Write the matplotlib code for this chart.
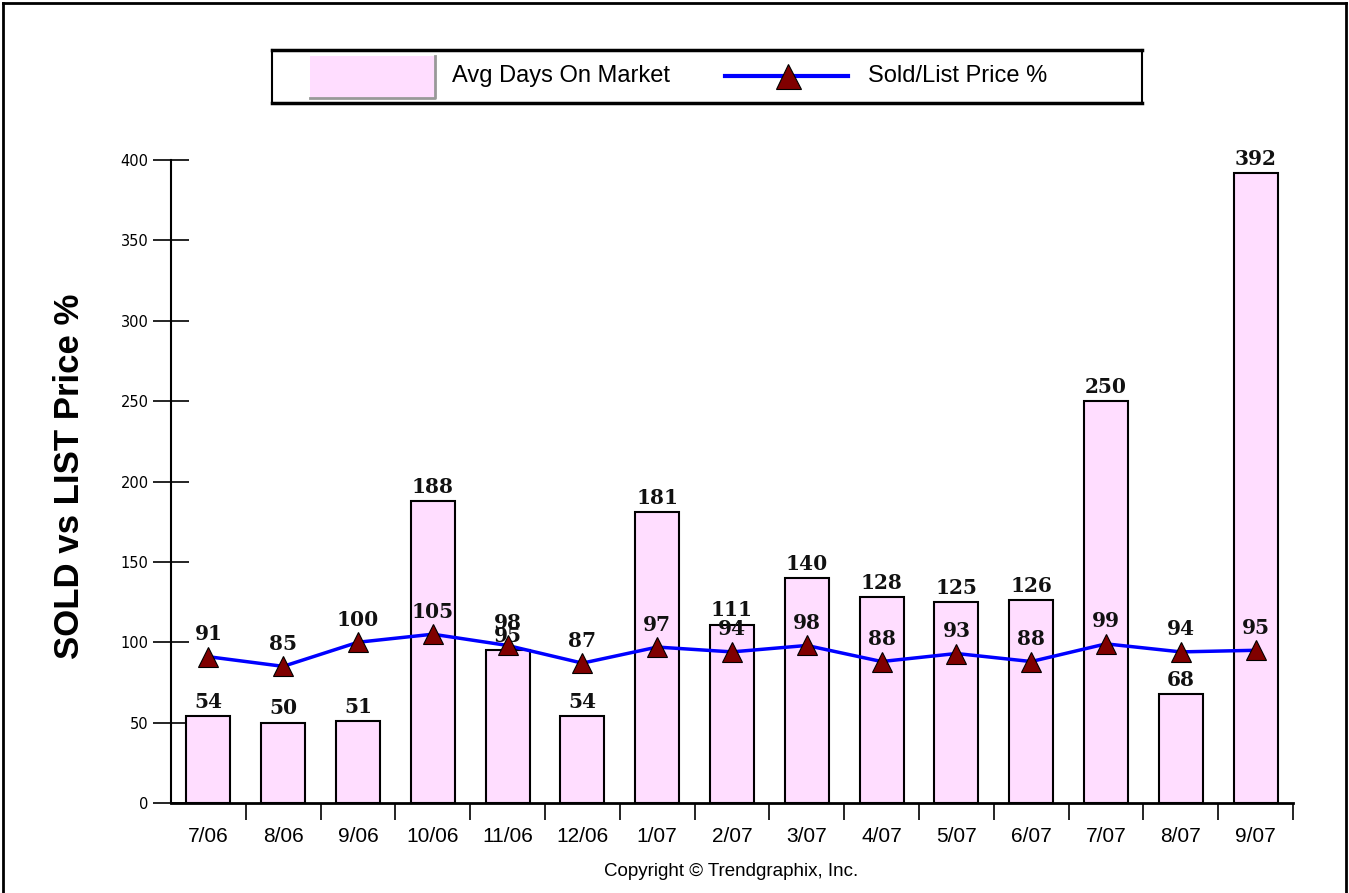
import numpy as np
import matplotlib.pyplot as plt
from matplotlib.patches import Rectangle
from matplotlib.lines import Line2D

# data
months = ["7/06", "8/06", "9/06", "10/06", "11/06", "12/06", "1/07", "2/07",
          "3/07", "4/07", "5/07", "6/07", "7/07", "8/07", "9/07"]
days_on_market = [54, 50, 51, 188, 95, 54, 181, 111, 140, 128, 125, 126, 250, 68, 392]
sold_list_pct = [91, 85, 100, 105, 98, 87, 97, 94, 98, 88, 93, 88, 99, 94, 95]

W, H = 1349, 893
pink = "#FFDDFF"
sans = ["Liberation Sans", "DejaVu Sans"]
serif_b = dict(family="DejaVu Serif", weight="bold", size=14.5)

fig = plt.figure(figsize=(W / 100, H / 100), dpi=100)
fig.patch.set_facecolor("white")

# outer frame
for xs, ys in [([3, 3], [H, 3]), ([3, 1346], [3, 3]), ([1346, 1346], [3, H])]:
    fig.add_artist(Line2D([v / W for v in xs], [1 - v / H for v in ys],
                          color="black", lw=2, transform=fig.transFigure))

ax = fig.add_axes([171 / W, 1 - 803 / H, (1293 - 171) / W, (803 - 160) / H])
x = np.arange(len(months))

# bars + labels
ax.bar(x, days_on_market, width=0.59, color=pink, edgecolor="black", lw=1.5, zorder=2)
for xi, v in zip(x, days_on_market):
    ax.annotate(str(v), (xi, v), xytext=(0, 3), textcoords="offset points",
                ha="center", va="bottom", color="#111111", **serif_b)

# sold/list line + labels
ax.plot(x, sold_list_pct, color="#0000FF", lw=2.5, marker="^", ms=14,
        mfc="#800000", mec="black", mew=0.8, zorder=4, clip_on=False)
for xi, p in zip(x, sold_list_pct):
    ax.annotate(str(p), (xi, p), xytext=(0, 9), textcoords="offset points",
                ha="center", va="bottom", color="#111111", zorder=5, **serif_b)

ax.set_xlim(-0.5, len(months) - 0.5)
ax.set_ylim(0, 400)
for s in ["top", "right"]:
    ax.spines[s].set_visible(False)
ax.spines["left"].set_linewidth(1.5)
ax.spines["bottom"].set_linewidth(2)

ax.set_yticks(range(0, 401, 50))
ax.tick_params(axis="y", direction="inout", length=26, width=1.2, pad=3, labelsize=10.5)
for lbl in ax.get_yticklabels():
    lbl.set_family("DejaVu Sans")

ax.set_xticks(x)
ax.set_xticklabels(months, family=sans, fontsize=15)
ax.tick_params(axis="x", which="major", length=0, pad=17)
ax.set_xticks(x + 0.5, minor=True)
ax.tick_params(axis="x", which="minor", direction="out", length=12, width=1.2)

fig.text(70 / W, 1 - 476 / H, "SOLD vs LIST Price %", rotation=90, ha="center", va="center",
         family="Liberation Sans", weight="bold", fontsize=25)

fig.text(731 / W, 1 - 872 / H, "Copyright \u00a9 Trendgraphix, Inc.", ha="center", va="center",
         family=sans, fontsize=13.5)

# legend box
lg = fig.add_axes([272 / W, 1 - 103 / H, 870 / W, 53 / H])
lg.set_xlim(0, 870)
lg.set_ylim(0, 53)
lg.set_xticks([])
lg.set_yticks([])
for s in lg.spines.values():
    s.set_linewidth(1.5)
lg.spines["top"].set_linewidth(2.5)
lg.spines["bottom"].set_linewidth(2.5)
lg.add_patch(Rectangle((38, 5), 125, 42, facecolor=pink, edgecolor="none"))
lg.plot([163, 163, 38], [47, 5, 5], color="#999999", lw=2)
lg.text(180, 27, "Avg Days On Market", va="center", ha="left", family=sans, fontsize=17)
lg.plot([453, 576], [27, 27], color="#0000FF", lw=3)
lg.plot([516], [27], marker="^", ms=18, mfc="#800000", mec="black", mew=0.8)
lg.text(596, 27, "Sold/List Price %", va="center", ha="left", family=sans, fontsize=17)

fig.savefig("out.png", dpi=100)
